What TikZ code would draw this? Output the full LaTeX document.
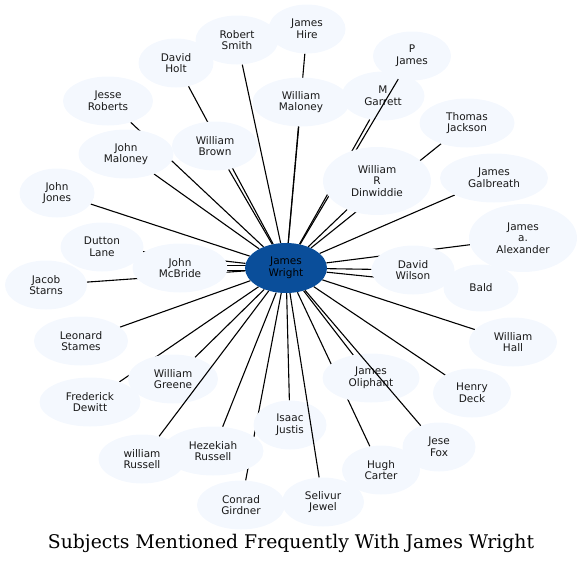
\documentclass[tikz,border=0pt]{standalone}
\usepackage{fontspec}
\usetikzlibrary{shapes.geometric}
\newfontfamily\nodefont{DejaVu Sans}
\newfontfamily\titlefont{DejaVu Serif}
\definecolor{pfill}{RGB}{244,248,254}
\definecolor{cfill}{RGB}{10,78,154}
\definecolor{ptext}{RGB}{25,25,25}
\pgfdeclarelayer{background}
\pgfsetlayers{background,main}
\tikzset{
  person/.style={ellipse, fill=pfill, draw=none, inner sep=0pt, align=center,
    minimum width=75pt, minimum height=49pt, text=ptext,
    font={\nodefont\fontsize{10.5}{11.7}\selectfont}},
  center/.style={person, fill=cfill, minimum width=82pt, minimum height=50pt, text=black},
  link/.style={draw=black, line width=1.1pt}
}
\begin{document}
\begin{tikzpicture}[x=1pt,y=-1pt]
\useasboundingbox (0,0) rectangle (583,565);
\node[center] (wright) at (286,268) {James\\Wright};
\node[person, minimum width=77] (hire) at (307,29) {James\\Hire};
\node[person, minimum width=83] (rsmith) at (237,40) {Robert\\Smith};
\node[person, minimum width=75] (holt) at (176,63) {David\\Holt};
\node[person, minimum width=97] (wmaloney) at (301,102) {William\\Maloney};
\node[person, minimum width=90] (roberts) at (108,101) {Jesse\\Roberts};
\node[person, minimum width=95] (jackson) at (467,123) {Thomas\\Jackson};
\node[person, minimum width=95] (jmaloney) at (126,154) {John\\Maloney};
\node[person, minimum width=86] (brown) at (215,146) {William\\Brown};
\node[person, minimum width=78] (pjames) at (412,56) {P\\James};
\node[person, minimum width=83] (garrett) at (383,96) {M\\Garrett};
\draw[link] (wright) -- (pjames);
\node[person, minimum width=108, minimum height=68] (dinwiddie) at (377,181) {William\\R\\Dinwiddie};
\node[person, minimum width=108] (galbreath) at (494,178) {James\\Galbreath};
\node[person, minimum width=75] (jones) at (57,193) {John\\Jones};
\node[person, minimum width=83] (dutton) at (102,247) {Dutton\\Lane};
\node[person, minimum width=108, minimum height=68] (alexander) at (523,238) {James\\a.\\Alexander};
\node[person, minimum width=95] (mcbride) at (180,268) {John\\McBride};
\node[person, minimum width=75, minimum height=47] (bald) at (481,288) {Bald};
\node[person, minimum width=83] (wilson) at (413,270) {David\\Wilson};
\node[person, minimum width=82] (starns) at (46,285) {Jacob\\Starns};
\node[person, minimum width=94] (stames) at (81,341) {Leonard\\Stames};
\node[person, minimum width=88] (hall) at (513,342) {William\\Hall};
\node[person, minimum width=87] (wrussell) at (142,459) {william\\Russell};
\node[person, minimum width=90] (greene) at (173,379) {William\\Greene};
\draw[link] (wright) -- (wrussell);
\node[person, minimum width=73] (fox) at (439,447) {Jese\\Fox};
\node[person, minimum width=97] (oliphant) at (371,378) {James\\Oliphant};
\draw[link] (wright) -- (fox);
\node[person, minimum width=101] (dewitt) at (90,402) {Frederick\\Dewitt};
\node[person, minimum width=78] (deck) at (472,393) {Henry\\Deck};
\node[person, minimum width=82] (jewel) at (323,502) {Selivur\\Jewel};
\node[person, minimum width=73] (justis) at (290,425) {Isaac\\Justis};
\draw[link] (wright) -- (jewel);
\node[person, minimum width=101] (hrussell) at (213,451) {Hezekiah\\Russell};
\node[person, minimum width=78] (carter) at (381,470) {Hugh\\Carter};
\node[person, minimum width=88] (girdner) at (241,505) {Conrad\\Girdner};
\node[font={\titlefont\fontsize{18.8}{21}\selectfont}, text=black] (title) at (291,543) {Subjects Mentioned Frequently With James Wright};
\begin{pgfonlayer}{background}
\foreach \t in {hire,rsmith,holt,wmaloney,roberts,jackson,jmaloney,brown,garrett,dinwiddie,galbreath,jones,dutton,alexander,bald,wilson,starns,stames,hall,greene,oliphant,dewitt,deck,justis,hrussell,carter,girdner}
  \draw[link] (wright) -- (\t);
\draw[link] ([yshift=2.5pt]wright.center) -- ([yshift=2.5pt]mcbride.center);
\draw[link] ([yshift=-2.5pt]wright.center) -- ([yshift=-2.5pt]mcbride.center);
\end{pgfonlayer}
\end{tikzpicture}
\end{document}
